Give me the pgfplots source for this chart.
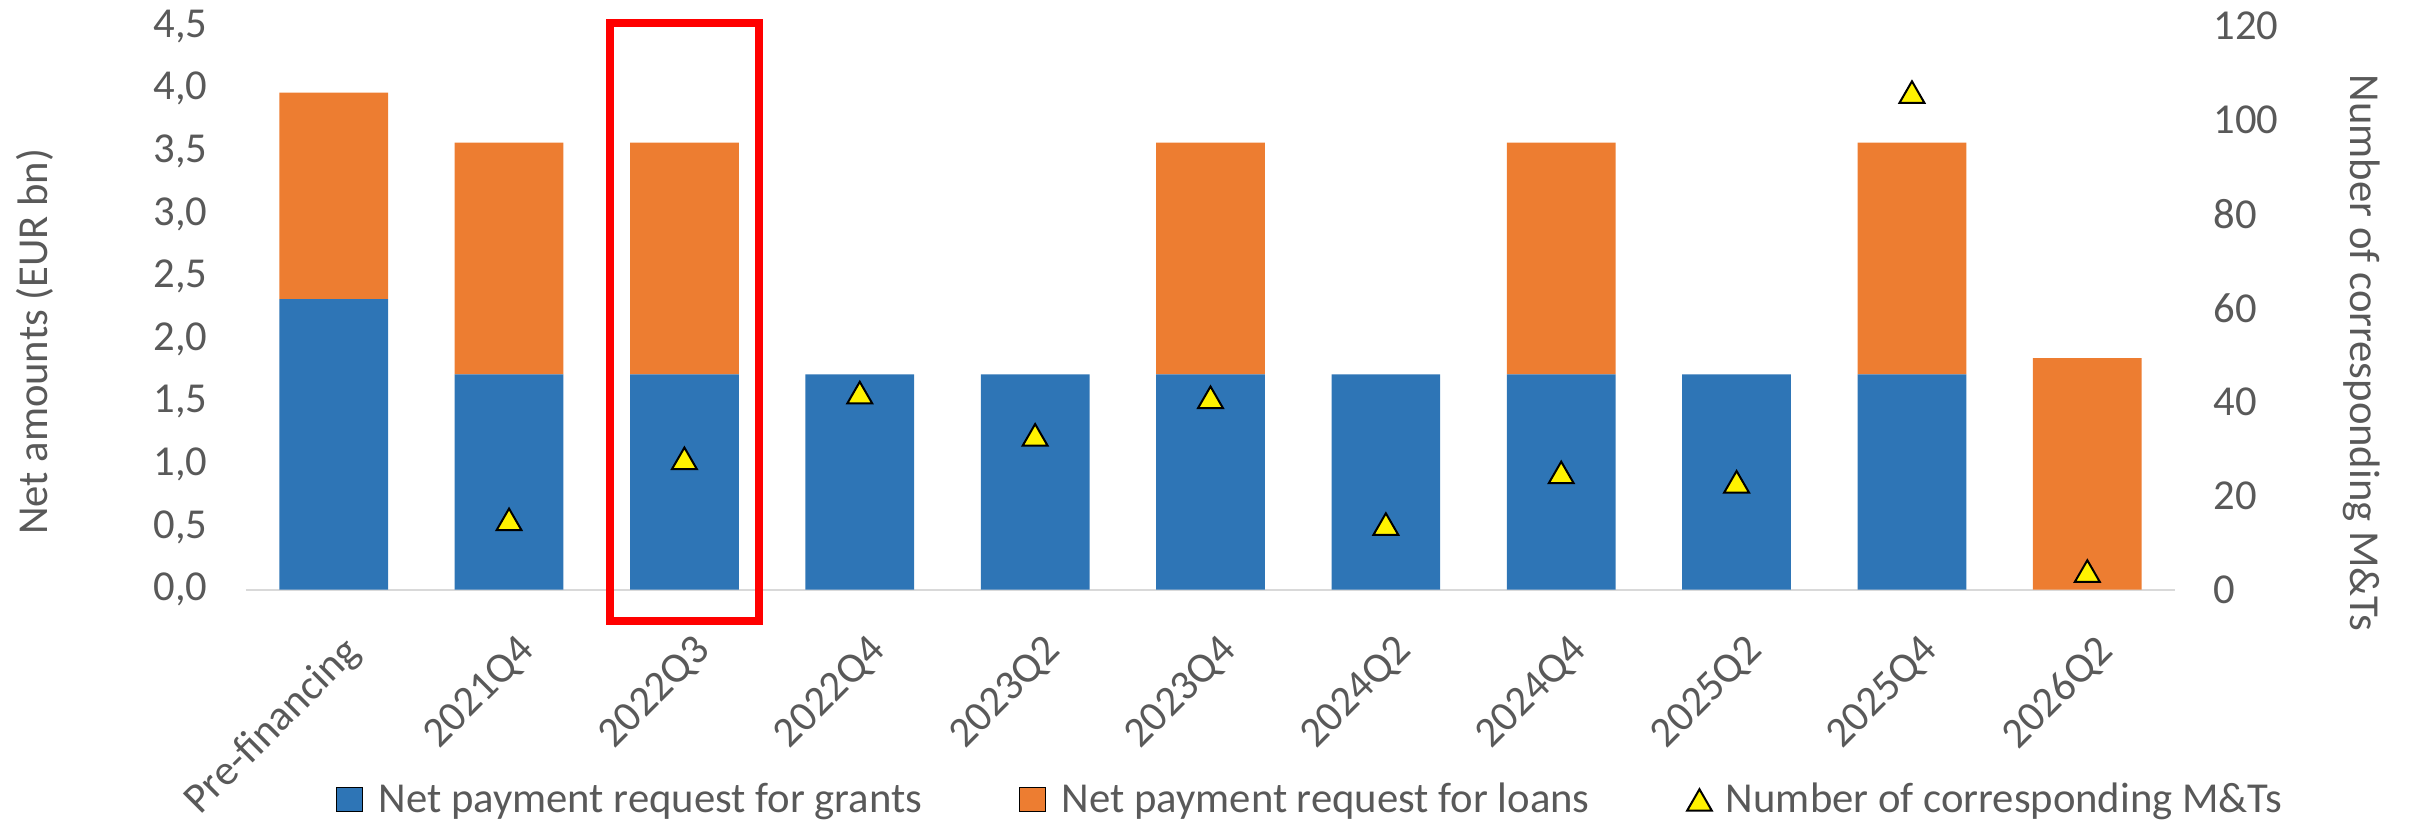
\documentclass[border=0pt]{standalone}
\usepackage{pgfplots}
\pgfplotsset{compat=1.18}
\usepackage{pgfplotstable}
\usepackage{fontspec}
\setmainfont{Carlito}

\definecolor{cblue}{HTML}{2E75B6}
\definecolor{corange}{HTML}{ED7D31}
\definecolor{cgray}{HTML}{595959}
\definecolor{cline}{HTML}{D9D9D9}
\newcommand{\f}{\fontsize{12.8}{15.4}\selectfont}

% x: 0 = Pre-financing, 1..10 = quarters
\pgfplotstableread{
x  grants loans mts
0  2.32   1.65  nan
1  1.72   1.85  15
2  1.72   1.85  28
3  1.72   0     42
4  1.72   0     33
5  1.72   1.85  41
6  1.72   0     14
7  1.72   1.85  25
8  1.72   0     23
9  1.72   1.85  106
10 0      1.85  4
}\rrf

\pgfplotsset{
  base/.style={
    width=578.7pt, height=169.05pt, scale only axis,
    xmin=-0.5, xmax=10.5, enlargelimits=false,
    major tick length=0pt,
    tick label style={font=\f, text=cgray},
    label style={font=\f, text=cgray},
    /pgf/number format/assume math mode=true,
  },
  legsq/.style={legend image code/.code={\fill[##1] (0pt,-3.4pt) rectangle (7.8pt,3.8pt); \path (10.5pt,0pt);}},
  legtri/.style={legend image code/.code={\draw[##1] plot coordinates {(3.75pt,0pt)}; \path (0pt,0pt) (9.5pt,0pt);}},
}

\begin{document}
\begin{tikzpicture}[font=\f]
\path[use as bounding box] (-73.8pt,-69.69pt) rectangle (649.2pt,176.91pt);

\begin{axis}[base,
  axis lines*=left,
  y axis line style={draw=none},
  x axis line style={draw=cline, line width=0.5pt},
  ybar stacked, bar width=0.62,
  ymin=0, ymax=4.5,
  ytick={0,0.5,1,1.5,2,2.5,3,3.5,4,4.5},
  /pgf/number format/use comma,
  /pgf/number format/fixed,
  /pgf/number format/fixed zerofill,
  /pgf/number format/precision=1,
  yticklabel style={xshift=-8pt},
  xtick={0,...,10},
  xticklabels={Pre-financing,2021Q4,2022Q3,2022Q4,2023Q2,2023Q4,2024Q2,2024Q4,2025Q2,2025Q4,2026Q2},
  xticklabel style={xshift=2.2pt, yshift=-8pt, rotate=45, anchor=north east},
  ylabel={Net amounts (EUR bn)},
  ylabel style={at={(axis description cs:-0.1094,0.44)}, anchor=center},
  clip=false,
]
\addplot[fill=cblue, draw=none] table[x=x, y=grants] {\rrf};
\addplot[fill=corange, draw=none] table[x=x, y=loans] {\rrf};
\draw[red, line width=2.4pt] (axis cs:1.578,-0.25) rectangle (axis cs:2.424,4.526);
\end{axis}

\begin{axis}[base,
  axis y line*=right, axis x line=none,
  y axis line style={draw=none},
  xtick=\empty,
  ymin=0, ymax=120, ytick={0,20,...,120},
  yticklabel style={xshift=8pt},
  ylabel={Number of corresponding M\&Ts},
  ylabel style={at={(axis description cs:1.097,0.42)}, anchor=center, rotate=180},
  legend columns=3,
  legend style={draw=none, fill=none, inner sep=0pt, font=\f, text=cgray,
    at={(axis description cs:0.0461,-0.373)}, anchor=west,
    /tikz/every even column/.append style={column sep=27pt}},
]
\addlegendimage{legsq, fill=cblue}
\addlegendentry{Net payment request for grants}
\addlegendimage{legsq, fill=corange}
\addlegendentry{Net payment request for loans}
\addplot[only marks, mark=triangle*, mark size=4.3pt, legtri,
  mark options={fill=yellow, draw=black, line width=0.6pt, yshift=-1.1pt}]
  table[x=x, y=mts] {\rrf};
\addlegendentry{Number of corresponding M\&Ts}
\end{axis}
\end{tikzpicture}
\end{document}
